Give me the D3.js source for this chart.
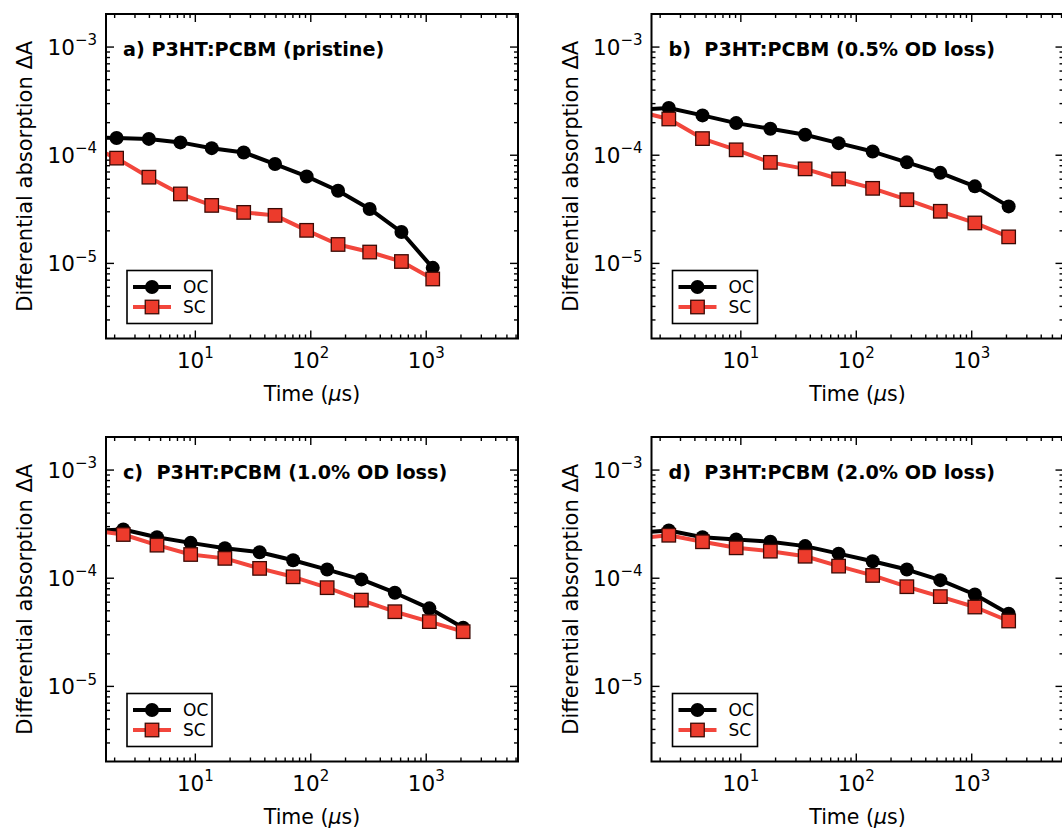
<!DOCTYPE html>
<html><head><meta charset="utf-8">
<script src="https://cdn.jsdelivr.net/npm/d3@7"></script>
<style>
html,body{margin:0;padding:0;background:#fff;}
svg text{font-family:"DejaVu Sans",sans-serif;}
</style></head>
<body><svg id="chart" width="1062" height="828"></svg>
<script>
// ---- data ----
const panelTitles = ["a) P3HT:PCBM (pristine)", "b)  P3HT:PCBM (0.5% OD loss)", "c)  P3HT:PCBM (1.0% OD loss)", "d)  P3HT:PCBM (2.0% OD loss)"];
const seriesNames = ["OC", "SC"];
const timeA = [1.12, 2.1, 4.0, 7.5, 14, 26.5, 49.5, 93, 174, 327, 616, 1150];
const timeBCD = [1.23, 2.4, 4.7, 9.2, 18.2, 36.4, 71, 140, 277, 540, 1075, 2110];
const ocA = [1.45e-4, 1.43e-4, 1.40e-4, 1.30e-4, 1.15e-4, 1.05e-4, 8.2e-5, 6.3e-5, 4.65e-5, 3.15e-5, 1.93e-5, 9.0e-6];
const scA = [1.25e-4, 9.3e-5, 6.2e-5, 4.34e-5, 3.4e-5, 2.93e-5, 2.75e-5, 2.0e-5, 1.48e-5, 1.26e-5, 1.03e-5, 7.1e-6];
const ocB = [2.6e-4, 2.7e-4, 2.31e-4, 1.96e-4, 1.74e-4, 1.53e-4, 1.28e-4, 1.07e-4, 8.5e-5, 6.8e-5, 5.1e-5, 3.33e-5];
const scB = [2.55e-4, 2.14e-4, 1.41e-4, 1.11e-4, 8.5e-5, 7.4e-5, 5.97e-5, 4.89e-5, 3.84e-5, 3.0e-5, 2.34e-5, 1.74e-5];
const ocC = [2.7e-4, 2.79e-4, 2.37e-4, 2.10e-4, 1.87e-4, 1.72e-4, 1.45e-4, 1.19e-4, 9.65e-5, 7.27e-5, 5.21e-5, 3.45e-5];
const scC = [2.75e-4, 2.51e-4, 2.0e-4, 1.64e-4, 1.51e-4, 1.22e-4, 1.02e-4, 8.09e-5, 6.21e-5, 4.85e-5, 3.93e-5, 3.17e-5];
const ocD = [2.6e-4, 2.73e-4, 2.37e-4, 2.26e-4, 2.15e-4, 1.96e-4, 1.67e-4, 1.42e-4, 1.19e-4, 9.5e-5, 7.0e-5, 4.65e-5];
const scD = [2.3e-4, 2.47e-4, 2.15e-4, 1.89e-4, 1.76e-4, 1.58e-4, 1.28e-4, 1.05e-4, 8.26e-5, 6.69e-5, 5.36e-5, 3.98e-5];
const xDomain = [1.7, 6300];
const yDomain = [2e-6, 2e-3];
const xMajorTicks = [10, 100, 1000];
const xTickExponents = ["1", "2", "3"];
const yMajorTicks = [1e-3, 1e-4, 1e-5];
const yTickExponents = ["\u22123", "\u22124", "\u22125"];
const xLabel = "Time (";
const yLabel = "Differential absorption \u0394A";

// ---- layout ----
const panelW = 412, panelH = 324.5;
const layout = [
  {left: 106, top: 14, time: timeA, oc: ocA, sc: scA},
  {left: 651.5, top: 14, time: timeBCD, oc: ocB, sc: scB},
  {left: 106, top: 437, time: timeBCD, oc: ocC, sc: scC},
  {left: 651.5, top: 437, time: timeBCD, oc: ocD, sc: scD}
];
const RED = "#ec3b2c", RED_LINE = "#f2463c";

const svg = d3.select("#chart");
const defs = svg.append("defs");

function minorTicks(lo, hi) {
  const out = [];
  for (let e = Math.floor(Math.log10(lo)); e <= Math.ceil(Math.log10(hi)); e++) {
    for (let m = 2; m <= 9; m++) {
      const v = m * Math.pow(10, e);
      if (v > lo && v < hi) out.push(v);
    }
  }
  return out;
}

layout.forEach((p, i) => {
  const g = svg.append("g").attr("transform", `translate(${p.left},${p.top})`);
  const x = d3.scaleLog().domain(xDomain).range([0, panelW]);
  const y = d3.scaleLog().domain(yDomain).range([panelH, 0]);

  defs.append("clipPath").attr("id", "clip" + i)
    .append("rect").attr("x", 0).attr("y", 0).attr("width", panelW).attr("height", panelH);

  const styleAxis = sel => { sel.select(".domain").remove(); sel.selectAll("line").attr("stroke", "#000").attr("stroke-width", 1.4); };
  const xMinor = minorTicks(xDomain[0], xDomain[1]);
  const yMinor = minorTicks(yDomain[0], yDomain[1]);

  g.append("g").attr("transform", `translate(0,${panelH})`)
    .call(d3.axisBottom(x).tickValues(xMinor).tickSize(-4).tickFormat(() => "")).call(styleAxis);
  g.append("g").call(d3.axisTop(x).tickValues(xMinor).tickSize(-4).tickFormat(() => "")).call(styleAxis);
  g.append("g").call(d3.axisLeft(y).tickValues(yMinor).tickSize(-4).tickFormat(() => "")).call(styleAxis);
  g.append("g").attr("transform", `translate(${panelW},0)`)
    .call(d3.axisRight(y).tickValues(yMinor).tickSize(-4).tickFormat(() => "")).call(styleAxis);

  const xb = g.append("g").attr("transform", `translate(0,${panelH})`)
    .call(d3.axisBottom(x).tickValues(xMajorTicks).tickSize(-8).tickFormat(() => "")).call(styleAxis);
  g.append("g").call(d3.axisTop(x).tickValues(xMajorTicks).tickSize(-8).tickFormat(() => "")).call(styleAxis);
  const yl = g.append("g").call(d3.axisLeft(y).tickValues(yMajorTicks).tickSize(-8).tickFormat(() => "")).call(styleAxis);
  g.append("g").attr("transform", `translate(${panelW},0)`)
    .call(d3.axisRight(y).tickValues(yMajorTicks).tickSize(-8).tickFormat(() => "")).call(styleAxis);

  xb.selectAll(".tick text").each(function(d, k) {
    const t = d3.select(this).attr("fill", "#000").attr("font-size", 21.5)
      .attr("y", 29).attr("dy", null).attr("text-anchor", "middle");
    t.text(null);
    t.append("tspan").text("10");
    t.append("tspan").attr("font-size", 15).attr("dy", -9.5).text(xTickExponents[k]);
  });
  yl.selectAll(".tick text").each(function(d, k) {
    const t = d3.select(this).attr("fill", "#000").attr("font-size", 21.5)
      .attr("x", -9).attr("dy", "0.36em").attr("text-anchor", "end");
    t.text(null);
    t.append("tspan").text("10");
    t.append("tspan").attr("font-size", 15).attr("dy", -9.5).text(yTickExponents[k]);
  });

  // data
  const data = p.time.map((t, k) => ({t, oc: p.oc[k], sc: p.sc[k]}));
  const plot = g.append("g").attr("clip-path", `url(#clip${i})`);
  const lineOC = d3.line().x(d => x(d.t)).y(d => y(d.oc));
  const lineSC = d3.line().x(d => x(d.t)).y(d => y(d.sc));
  plot.append("path").datum(data).attr("d", lineOC).attr("fill", "none")
    .attr("stroke", "#000").attr("stroke-width", 4).attr("stroke-linejoin", "round");
  plot.selectAll("circle.oc").data(data).join("circle").attr("class", "oc")
    .attr("cx", d => x(d.t)).attr("cy", d => y(d.oc)).attr("r", 7).attr("fill", "#000");
  plot.append("path").datum(data).attr("d", lineSC).attr("fill", "none")
    .attr("stroke", RED_LINE).attr("stroke-width", 4).attr("stroke-linejoin", "round");
  const s = 13.5;
  plot.selectAll("rect.sc").data(data).join("rect").attr("class", "sc")
    .attr("x", d => x(d.t) - s / 2).attr("y", d => y(d.sc) - s / 2)
    .attr("width", s).attr("height", s).attr("fill", RED)
    .attr("stroke", "#3a0a05").attr("stroke-width", 1.3);

  // frame
  g.append("rect").attr("width", panelW).attr("height", panelH)
    .attr("fill", "none").attr("stroke", "#000").attr("stroke-width", 2);

  // title
  g.append("text").attr("x", 17).attr("y", 41.5).attr("font-size", 19.2)
    .attr("font-weight", "bold").style("white-space", "pre").text(panelTitles[i]);

  // axis labels
  const xl = g.append("text").attr("x", panelW / 2).attr("y", panelH + 62)
    .attr("text-anchor", "middle").attr("font-size", 20.5);
  xl.append("tspan").text(xLabel);
  xl.append("tspan").attr("font-style", "italic").text("\u03bc");
  xl.append("tspan").text("s)");
  g.append("text").attr("transform", `translate(-74,${panelH / 2}) rotate(-90)`)
    .attr("text-anchor", "middle").attr("font-size", 21).text(yLabel);

  // legend
  const lg = g.append("g").attr("transform", `translate(21,${panelH - 68})`);
  lg.append("rect").attr("width", 85).attr("height", 53).attr("fill", "#fff")
    .attr("stroke", "#000").attr("stroke-width", 1.6);
  const rows = [{y: 16.5, color: "#000", marker: "circle"}, {y: 36.5, color: RED_LINE, marker: "square"}];
  rows.forEach((r, k) => {
    lg.append("line").attr("x1", 6).attr("x2", 44).attr("y1", r.y).attr("y2", r.y)
      .attr("stroke", r.color).attr("stroke-width", 4);
    if (r.marker === "circle") {
      lg.append("circle").attr("cx", 25).attr("cy", r.y).attr("r", 7).attr("fill", "#000");
    } else {
      lg.append("rect").attr("x", 25 - s / 2).attr("y", r.y - s / 2).attr("width", s).attr("height", s)
        .attr("fill", RED).attr("stroke", "#3a0a05").attr("stroke-width", 1.3);
    }
    lg.append("text").attr("x", 56).attr("y", r.y).attr("dy", "0.36em")
      .attr("font-size", 17).text(seriesNames[k]);
  });
});
</script></body></html>
